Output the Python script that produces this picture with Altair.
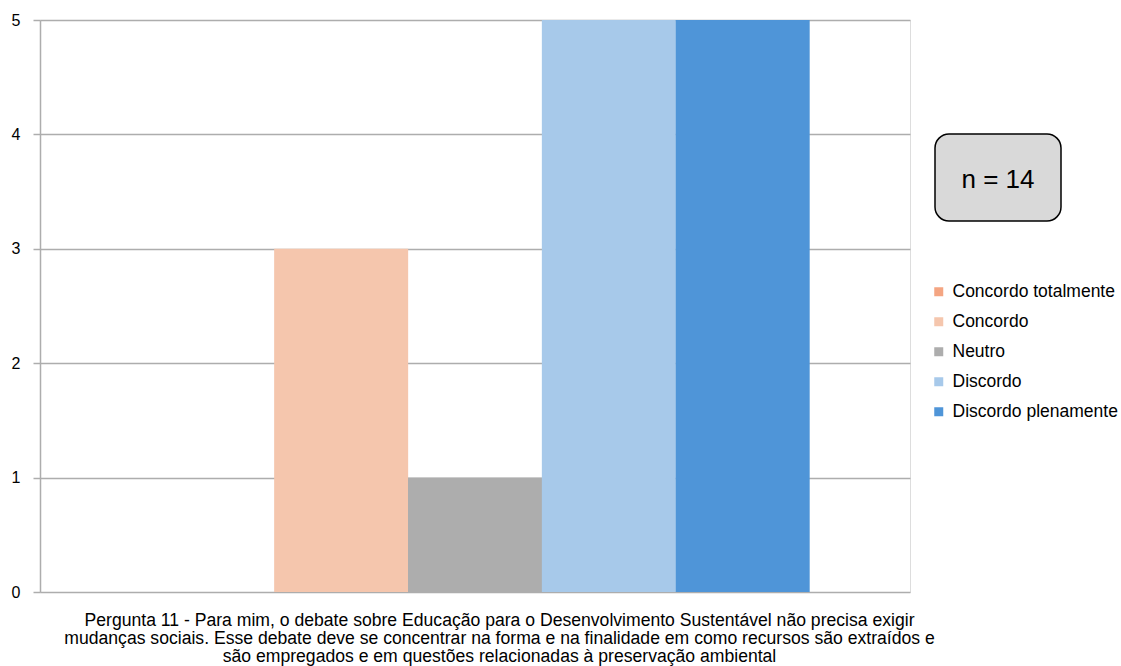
import altair as alt
import pandas as pd

# Survey responses for question 11
categories = ["Concordo totalmente", "Concordo", "Neutro", "Discordo", "Discordo plenamente"]
counts = [0, 3, 1, 5, 5]
colors = ["#F4A582", "#F5C6AD", "#ADADAD", "#A7C9EA", "#4F95D8"]
y_ticks = [0, 1, 2, 3, 4, 5]
sample_label = "n = 14"
caption = [
    "Pergunta 11 - Para mim, o debate sobre Educação para o Desenvolvimento Sustentável não precisa exigir",
    "mudanças sociais. Esse debate deve se concentrar na forma e na finalidade em como recursos são extraídos e",
    "são empregados e em questões relacionadas à preservação ambiental",
]

df = pd.DataFrame({"resposta": categories, "n": counts})

FONT = "Liberation Sans"

bars = alt.Chart(df).mark_bar(size=134).encode(
    x=alt.X(
        "resposta:N",
        sort=categories,
        scale=alt.Scale(paddingInner=0, paddingOuter=0.75),
        axis=alt.Axis(
            labels=False,
            ticks=False,
            domain=False,
            grid=False,
            title=caption,
            titleFont=FONT,
            titleFontSize=17.6,
            titleFontWeight="normal",
            titleColor="#000000",
            titleLineHeight=18,
            titleX=459,
            titleY=19,
            titleBaseline="top",
            titleAlign="center",
        ),
    ),
    y=alt.Y(
        "n:Q",
        scale=alt.Scale(domain=[0, 5], nice=False),
        axis=alt.Axis(
            values=y_ticks,
            format="d",
            title=None,
            grid=True,
            gridColor="#ADADAD",
            gridWidth=1.5,
            gridDash=[],
            tickColor="#ADADAD",
            tickSize=7,
            tickWidth=1.5,
            domainColor="#ADADAD",
            domainWidth=1.5,
            labelFont=FONT,
            labelFontSize=16,
            labelColor="#000000",
            labelPadding=13,
        ),
    ),
    color=alt.Color(
        "resposta:N",
        sort=categories,
        scale=alt.Scale(domain=categories, range=colors),
        legend=alt.Legend(
            title=None,
            orient="none",
            legendX=890,
            legendY=263,
            symbolType="square",
            symbolSize=81,
            symbolStrokeWidth=0,
            labelFont=FONT,
            labelFontSize=17.5,
            labelColor="#000000",
            labelOffset=5,
            rowPadding=11,
            labelLimit=300,
        ),
    ),
)

# Rounded annotation box with the sample size
box = alt.Chart(pd.DataFrame({"t": [sample_label]})).mark_rect(
    fill="#D9D9D9", stroke="#000000", strokeWidth=1.5, cornerRadius=14, clip=False
).encode(
    x=alt.value(895), x2=alt.value(1021), y=alt.value(114), y2=alt.value(201)
)
box_text = alt.Chart(pd.DataFrame({"t": [sample_label]})).mark_text(
    font=FONT, fontSize=26, color="#000000", align="center", baseline="middle", clip=False
).encode(
    x=alt.value(958), y=alt.value(160), text="t:N"
)

chart = alt.layer(bars, box, box_text).properties(
    width=870,
    height=572,
    autosize=alt.AutoSizeParams(type="none"),
    padding={"left": 40, "top": 20, "right": 211, "bottom": 74},
).configure_view(stroke=None).configure(background="#FFFFFF")

chart.save("out.html", embed_options={"renderer": "svg", "actions": False})
